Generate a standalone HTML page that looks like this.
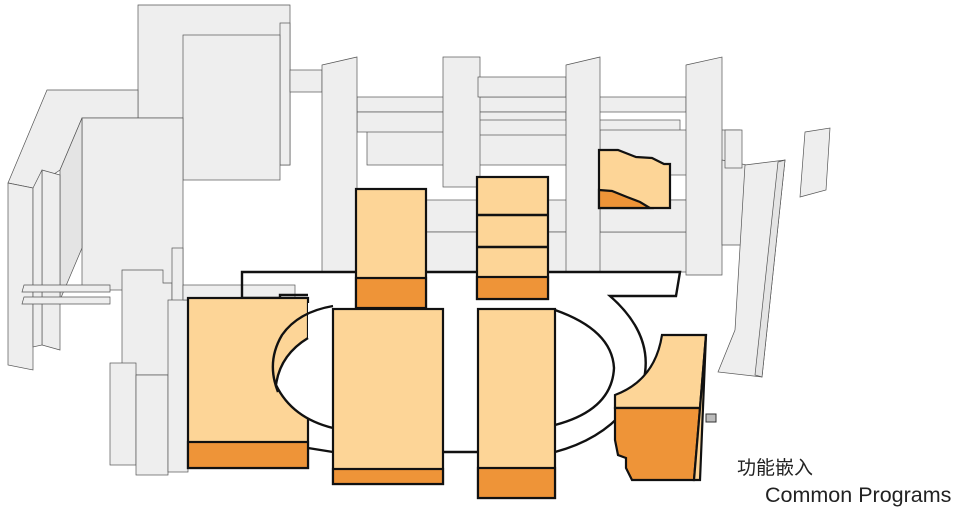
<!DOCTYPE html>
<html><head><meta charset="utf-8"><style>
html,body{margin:0;padding:0;background:#fff;width:960px;height:512px;overflow:hidden}
svg{display:block}
.g{fill:#eeeeee;stroke:#555;stroke-width:.7}
.g2{fill:#e4e4e4;stroke:#555;stroke-width:.7}
.l{fill:#fdd597;stroke:#111;stroke-width:2.2}
.d{fill:#ee9438;stroke:#111;stroke-width:2.2}
.o{fill:none;stroke:#111;stroke-width:2.4}
</style></head><body>
<svg width="960" height="512" viewBox="0 0 960 512">
<polygon class="g" points="138,5 290,5 290,165 183,165 183,118 138,118"/>
<polygon class="g" points="8,183 47,90 138,90 138,118 82,118 60,170 33,188"/>
<rect class="g" x="280" y="23" width="10" height="142"/>
<rect class="g" x="183" y="35" width="97" height="145"/>
<rect class="g" x="82" y="118" width="101" height="172"/>
<polygon class="g2" points="60,170 82,118 82,248 60,300"/>
<polygon class="g" points="8,183 33,188 33,370 8,365"/>
<polygon class="g" points="42,170 60,175 60,350 42,345"/>
<polygon class="g" points="33,188 42,170 42,345 33,347"/>
<polygon class="g" points="24,285 110,285 110,292 22,292"/>
<polygon class="g" points="24,297 110,297 110,304 22,304"/>
<polygon class="g" points="122,270 163,270 163,283 172,283 172,375 122,375"/>
<rect class="g" x="172" y="248" width="11" height="60"/>
<rect class="g" x="110" y="363" width="26" height="102"/>
<rect class="g" x="136" y="375" width="32" height="100"/>
<rect class="g" x="168" y="300" width="20" height="172"/>
<rect class="g" x="183" y="285" width="112" height="15"/>
<rect class="g" x="290" y="70" width="32" height="22"/>
<rect class="g" x="357" y="97" width="329" height="15"/>
<rect class="g" x="367" y="130" width="200" height="35"/>
<rect class="g" x="357" y="112" width="209" height="20"/>
<rect class="g" x="470" y="120" width="210" height="15"/>
<rect class="g" x="357" y="200" width="363" height="32"/>
<rect class="g" x="357" y="232" width="363" height="40"/>
<rect class="g" x="600" y="130" width="140" height="45"/>
<rect class="g" x="600" y="200" width="140" height="32"/>
<polygon class="g" points="322,65 357,57 357,272 322,272"/>
<rect class="g" x="443" y="57" width="37" height="130"/>
<rect class="g" x="478" y="77" width="88" height="20"/>
<polygon class="g" points="566,65 600,57 600,272 566,272"/>
<polygon class="g" points="686,65 722,57 722,275 686,275"/>
<polygon class="g" points="722,160 747,165 747,245 722,245"/>
<polygon class="g" points="745,165 785,160 762,377 718,372 735,330"/>
<polygon class="g2" points="778,162 785,160 762,377 755,375"/>
<polygon class="g" points="805,132 830,128 826,190 800,197"/>
<rect class="g" x="725" y="130" width="17" height="38"/>
<path class="o" d="M242,298 L242,272 L680,272 L676,296 L610,296 Q660,340 640,392"/>
<path class="o" d="M555,310 Q612,330 614,368 Q612,410 555,425"/>
<path class="o" d="M555,452 Q600,440 625,410"/>
<path class="o" d="M308,448 L333,452"/>
<path class="o" d="M443,452 L478,452"/>
<path class="o" d="M242,298 L280,298 L280,295 L308,295"/>
<rect class="l" x="188" y="298" width="120" height="170"/>
<rect class="d" x="188" y="442" width="120" height="26"/>
<path d="M308,303 L333,303 L333,428 Q292,418 276,385 Q280,355 308,338 Z" fill="#fff" stroke="none"/>
<path class="o" d="M308,338 Q280,355 276,385 Q292,418 333,428"/>
<path class="o" d="M333,306 Q298,312 282,335 Q266,362 278,392"/>
<rect class="l" x="356" y="189" width="70" height="119"/>
<rect class="d" x="356" y="278" width="70" height="30"/>
<rect class="l" x="333" y="309" width="110" height="175"/>
<rect class="d" x="333" y="469" width="110" height="15"/>
<rect class="l" x="477" y="177" width="71" height="122"/>
<line class="o" x1="477" y1="215" x2="548" y2="215"/>
<line class="o" x1="477" y1="247" x2="548" y2="247"/>
<rect class="d" x="477" y="277" width="71" height="22"/>
<rect class="l" x="478" y="309" width="77" height="189"/>
<rect class="d" x="478" y="468" width="77" height="30"/>
<polygon class="l" points="599,150 618,150 636,157 652,158 664,164 670,164 670,208 599,208"/>
<polygon class="d" points="599,190 612,191 627,197 640,202 650,208 599,208"/>
<path class="l" d="M662,335 L706,335 L700,408 L615,408 L615,395 Q655,380 662,335 Z"/>
<polygon class="d" points="615,408 700,408 694,480 632,480 626,468 626,458 618,455 615,440"/>
<polygon class="l" points="700,408 706,335 700,480 694,480"/>
<rect x="706" y="414" width="10" height="8" fill="#bbb" stroke="#333" stroke-width="1"/>
<text x="737" y="474" font-family="Liberation Sans,'Noto Sans CJK SC',sans-serif" font-size="19" fill="#222">功能嵌入</text>
<text x="765" y="502" font-family="Liberation Sans,sans-serif" font-size="21.5" fill="#222">Common Programs</text>
</svg>
</body></html>
